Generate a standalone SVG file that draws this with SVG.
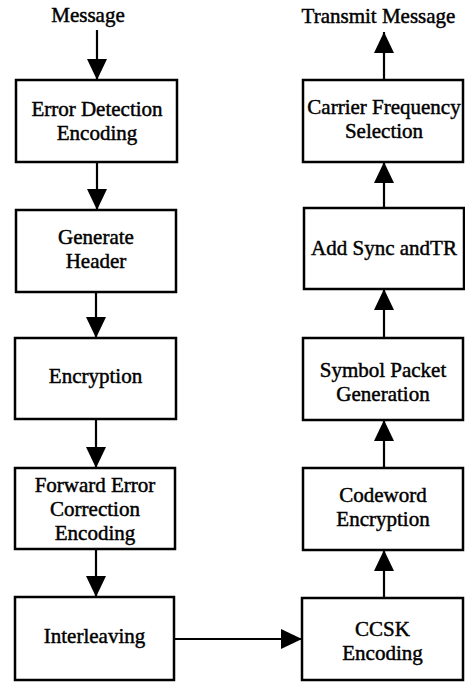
<svg xmlns="http://www.w3.org/2000/svg" width="465" height="682" viewBox="0 0 465 682">
<style>
.box{fill:#fff;stroke:#000;stroke-width:2.5}
.t{font-family:'Liberation Serif','DejaVu Serif',serif;font-size:21px;fill:#000;stroke:#000;stroke-width:0.45;text-anchor:middle}
.c{stroke:#000;stroke-width:2.2;fill:none}
</style>
<defs>
<marker id="ah" viewBox="0 0 21 20" refX="21" refY="10" markerWidth="21" markerHeight="20" markerUnits="userSpaceOnUse" orient="auto">
<path d="M0,0 L21,10 L0,20 Z" fill="#000"/>
</marker>
</defs>
<rect width="465" height="682" fill="#fff"/>
<g id="connectors">
<line class="c" x1="97" y1="30" x2="97" y2="80" marker-end="url(#ah)"/>
<line class="c" x1="97" y1="162" x2="97" y2="210" marker-end="url(#ah)"/>
<line class="c" x1="96" y1="292" x2="96" y2="338" marker-end="url(#ah)"/>
<line class="c" x1="96" y1="419" x2="96" y2="468" marker-end="url(#ah)"/>
<line class="c" x1="96" y1="549" x2="96" y2="597" marker-end="url(#ah)"/>
<line class="c" x1="174" y1="639" x2="302" y2="639" marker-end="url(#ah)"/>
<line class="c" x1="384" y1="598" x2="384" y2="550" marker-end="url(#ah)"/>
<line class="c" x1="384" y1="468" x2="384" y2="420" marker-end="url(#ah)"/>
<line class="c" x1="384" y1="338" x2="384" y2="289" marker-end="url(#ah)"/>
<line class="c" x1="384" y1="208" x2="384" y2="162" marker-end="url(#ah)"/>
<line class="c" x1="384" y1="80" x2="384" y2="32" marker-end="url(#ah)"/>
</g>
<g id="input"><text class="t" x="88" y="22">Message</text></g>
<g id="output"><text class="t" x="378.5" y="23">Transmit Message</text></g>
<g id="error-detection">
<rect class="box" x="16" y="80" width="161" height="82"/>
<text class="t" x="97" y="116">Error Detection</text>
<text class="t" x="97" y="140">Encoding</text>
</g>
<g id="generate-header">
<rect class="box" x="16" y="210" width="160" height="82"/>
<text class="t" x="96" y="244">Generate</text>
<text class="t" x="96" y="268">Header</text>
</g>
<g id="encryption">
<rect class="box" x="15" y="338" width="161" height="81"/>
<text class="t" x="95.5" y="383">Encryption</text>
</g>
<g id="fec">
<rect class="box" x="15" y="468" width="160" height="81"/>
<text class="t" x="95" y="492">Forward Error</text>
<text class="t" x="95" y="516">Correction</text>
<text class="t" x="95" y="540">Encoding</text>
</g>
<g id="interleaving">
<rect class="box" x="15" y="597" width="159" height="83"/>
<text class="t" x="94.5" y="643">Interleaving</text>
</g>
<g id="ccsk">
<rect class="box" x="302" y="598" width="161" height="82"/>
<text class="t" x="382.5" y="636">CCSK</text>
<text class="t" x="382.5" y="660">Encoding</text>
</g>
<g id="codeword-encryption">
<rect class="box" x="303" y="468" width="160" height="82"/>
<text class="t" x="383" y="502">Codeword</text>
<text class="t" x="383" y="526">Encryption</text>
</g>
<g id="symbol-packet">
<rect class="box" x="303" y="338" width="160" height="82"/>
<text class="t" x="383" y="377">Symbol Packet</text>
<text class="t" x="383" y="401">Generation</text>
</g>
<g id="add-sync">
<rect class="box" x="304" y="208" width="160" height="81"/>
<text class="t" x="384" y="255">Add Sync andTR</text>
</g>
<g id="carrier-frequency">
<rect class="box" x="303" y="80" width="160" height="82"/>
<text class="t" x="384" y="114">Carrier Frequency</text>
<text class="t" x="384" y="138">Selection</text>
</g>
</svg>
